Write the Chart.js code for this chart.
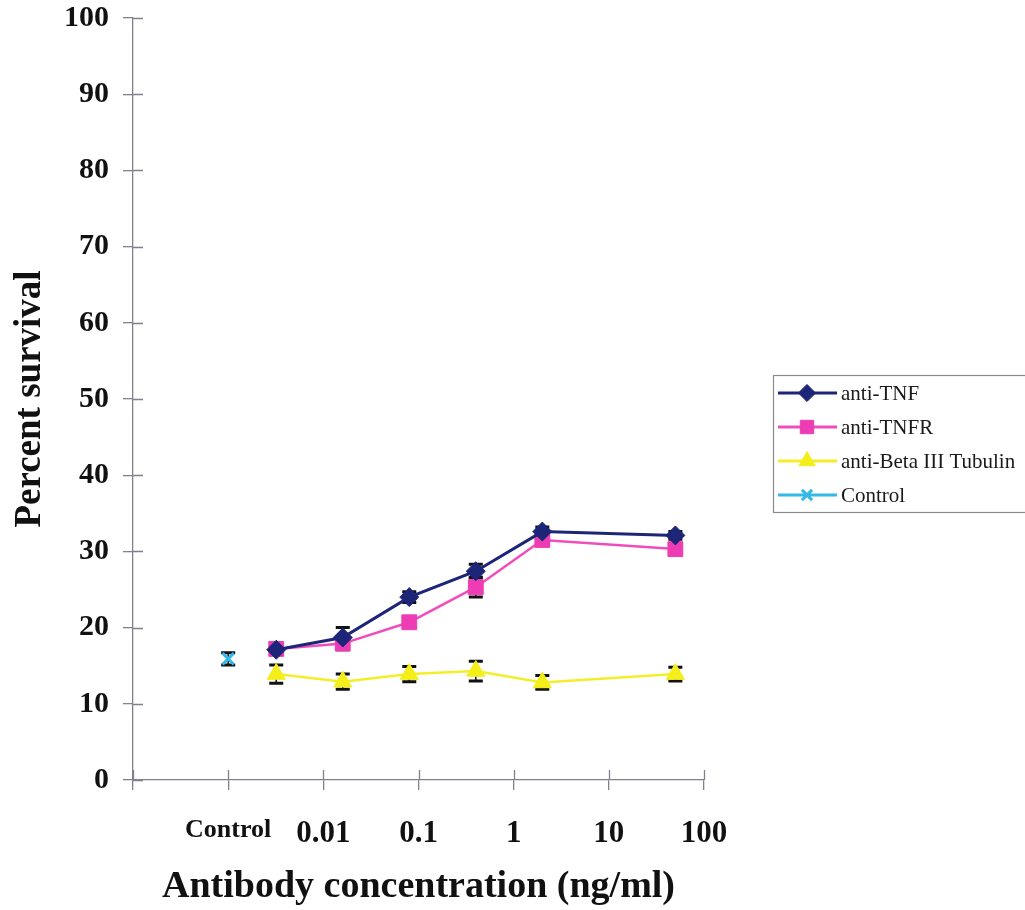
<!DOCTYPE html>
<html>
<head>
<meta charset="utf-8">
<title>Percent survival vs antibody concentration</title>
<script src="https://cdn.jsdelivr.net/npm/chart.js@4.4.1/dist/chart.umd.min.js"></script>
<style>
  html, body { margin: 0; padding: 0; background: #fff; }
  #wrap { width: 1025px; height: 910px; position: relative; }
</style>
</head>
<body>
<div id="wrap"><canvas id="survivalChart" width="1025" height="910"></canvas></div>
<script>
// antibody doses (ng/ml), 5-fold dilution series
const concentrations = [0.0032, 0.016, 0.08, 0.4, 2, 50];
// the untreated control is parked on the 0.001 decade
const controlPosition = [0.001];

const antiTNF = [17.1, 18.7, 24.0, 27.4, 32.6, 32.1];
const antiTNFErr = [0.6, 1.3, 0.7, 0.9, 0.6, 0.5];
const antiTNFR = [17.2, 17.9, 20.7, 25.3, 31.5, 30.3];
const antiTNFRErr = [0.5, 0.8, 0.6, 1.3, 0.6, 0.6];
const antiTubulin = [13.9, 12.9, 13.9, 14.3, 12.8, 13.9];
const antiTubulinErr = [1.2, 1.0, 1.0, 1.3, 0.9, 0.9];
const controlSurvival = [15.9];
const controlErr = [0.8];

const xTickValues = [0.0001, 0.001, 0.01, 0.1, 1, 10, 100];
const xTickLabels = ['', 'Control', '0.01', '0.1', '1', '10', '100'];

const axisColor = '#80808f';
const serif = "'Liberation Serif', 'Times New Roman', serif";

function points(xs, ys) {
  return xs.map((x, i) => ({ x: x, y: ys[i] }));
}

// black error bars with caps, drawn under the markers
const errorBars = {
  id: 'errorBars',
  beforeDatasetsDraw(chart) {
    const ctx = chart.ctx;
    const x = chart.scales.x, y = chart.scales.y;
    ctx.save();
    ctx.strokeStyle = '#111';
    chart.data.datasets.forEach((ds) => {
      if (!ds.errors) return;
      ds.data.forEach((p, i) => {
        const e = ds.errors[i];
        const px = x.getPixelForValue(p.x);
        const top = y.getPixelForValue(p.y + e);
        const bot = y.getPixelForValue(p.y - e);
        ctx.lineWidth = 1.5;
        ctx.beginPath();
        ctx.moveTo(px, top); ctx.lineTo(px, bot);
        ctx.stroke();
        ctx.lineWidth = 3;
        ctx.beginPath();
        ctx.moveTo(px - 7, top); ctx.lineTo(px + 7, top);
        ctx.moveTo(px - 7, bot); ctx.lineTo(px + 7, bot);
        ctx.stroke();
      });
    });
    ctx.restore();
  }
};

// tick marks also poke into the plot area, crossing the axis line
const innerTicks = {
  id: 'innerTicks',
  afterDraw(chart) {
    const ctx = chart.ctx;
    const area = chart.chartArea;
    const x = chart.scales.x, y = chart.scales.y;
    ctx.save();
    ctx.strokeStyle = axisColor;
    ctx.lineWidth = 1.3;
    ctx.beginPath();
    x.ticks.forEach((t) => {
      const px = Math.round(x.getPixelForValue(t.value)) + 0.5;
      ctx.moveTo(px, area.bottom); ctx.lineTo(px, area.bottom - 10);
    });
    y.ticks.forEach((t) => {
      const py = Math.round(y.getPixelForValue(t.value)) + 0.5;
      ctx.moveTo(area.left, py); ctx.lineTo(area.left + 10, py);
    });
    ctx.stroke();
    ctx.restore();
  }
};

// boxed legend to the right of the plot
const boxLegend = {
  id: 'boxLegend',
  afterDraw(chart) {
    const ctx = chart.ctx;
    const left = 773, top = 375, rowH = 34;
    ctx.save();
    ctx.strokeStyle = '#8a8a8a';
    ctx.lineWidth = 1.2;
    ctx.strokeRect(left + 0.5, top + 0.5, 270, 137);
    chart.data.datasets.forEach((ds, i) => {
      const cy = top + 18 + i * rowH;
      ctx.strokeStyle = ds.borderColor;
      ctx.lineWidth = 3;
      ctx.beginPath();
      ctx.moveTo(left + 5, cy); ctx.lineTo(left + 64, cy);
      ctx.stroke();
      ctx.fillStyle = ds.pointBackgroundColor;
      ctx.strokeStyle = ds.pointBorderColor;
      ctx.lineWidth = ds.pointBorderWidth;
      Chart.helpers.drawPoint(ctx, {
        pointStyle: ds.pointStyle,
        radius: ds.pointRadius * 0.9,
        borderWidth: ds.pointBorderWidth,
        rotation: 0
      }, left + 34, cy);
      ctx.fillStyle = '#1a1a1a';
      ctx.font = '21px ' + serif;
      ctx.textBaseline = 'middle';
      ctx.textAlign = 'left';
      ctx.fillText(ds.label, left + 68, cy + 1);
    });
    ctx.restore();
  }
};

new Chart(document.getElementById('survivalChart'), {
  type: 'line',
  data: {
    datasets: [
      {
        label: 'anti-TNF',
        data: points(concentrations, antiTNF),
        errors: antiTNFErr,
        borderColor: '#1c2578',
        borderWidth: 3,
        pointStyle: 'rectRot',
        pointRadius: 9.5,
        pointBackgroundColor: '#1c2578',
        pointBorderColor: '#1c2578',
        pointBorderWidth: 1
      },
      {
        label: 'anti-TNFR',
        data: points(concentrations, antiTNFR),
        errors: antiTNFRErr,
        borderColor: '#f04cbc',
        borderWidth: 2.5,
        pointStyle: 'rect',
        pointRadius: 10.5,
        pointBackgroundColor: '#ee3db4',
        pointBorderColor: '#ee3db4',
        pointBorderWidth: 1
      },
      {
        label: 'anti-Beta III Tubulin',
        data: points(concentrations, antiTubulin),
        errors: antiTubulinErr,
        borderColor: '#f4ee2a',
        borderWidth: 2.5,
        pointStyle: 'triangle',
        pointRadius: 10.5,
        pointBackgroundColor: '#f4ee1a',
        pointBorderColor: '#f4ee1a',
        pointBorderWidth: 1
      },
      {
        label: 'Control',
        data: points(controlPosition, controlSurvival),
        errors: controlErr,
        borderColor: '#34b8e8',
        borderWidth: 2,
        showLine: false,
        pointStyle: 'crossRot',
        pointRadius: 8,
        pointBackgroundColor: '#34b8e8',
        pointBorderColor: '#34b8e8',
        pointBorderWidth: 3
      }
    ]
  },
  options: {
    responsive: false,
    animation: false,
    events: [],
    layout: { padding: { top: 18, right: 321, left: 0, bottom: 0 } },
    elements: { line: { tension: 0 } },
    plugins: {
      legend: { display: false },
      tooltip: { enabled: false }
    },
    scales: {
      x: {
        type: 'logarithmic',
        min: 0.0001,
        max: 100,
        afterBuildTicks(scale) {
          scale.ticks = xTickValues.map((v) => ({ value: v }));
        },
        afterFit(scale) { scale.height = 130; },
        border: { color: axisColor, width: 1.3 },
        grid: {
          drawOnChartArea: false,
          color: axisColor,
          lineWidth: 1.3,
          tickLength: 10
        },
        ticks: {
          autoSkip: false,
          maxRotation: 0,
          padding: 25,
          color: '#111',
          font: (c) => ({
            family: serif,
            weight: 'bold',
            size: c.index === 1 ? 26 : 31
          }),
          callback: (value, index) => xTickLabels[index]
        },
        title: {
          display: true,
          text: 'Antibody concentration (ng/ml)',
          color: '#111',
          font: { family: serif, weight: 'bold', size: 38 },
          padding: { top: 0, bottom: 0 }
        }
      },
      y: {
        min: 0,
        max: 100,
        afterFit(scale) {
          scale.width = 133;
          scale.paddingTop = 0;
          scale.paddingBottom = 0;
        },
        border: { color: axisColor, width: 1.3 },
        grid: {
          drawOnChartArea: false,
          color: axisColor,
          lineWidth: 1.3,
          tickLength: 10
        },
        ticks: {
          stepSize: 10,
          padding: 14,
          color: '#111',
          font: { family: serif, weight: 'bold', size: 30 }
        },
        title: {
          display: true,
          text: 'Percent survival',
          color: '#111',
          font: { family: serif, weight: 'bold', size: 37 },
          padding: { top: 8, bottom: 8 }
        }
      }
    }
  },
  plugins: [errorBars, innerTicks, boxLegend]
});
</script>
</body>
</html>
